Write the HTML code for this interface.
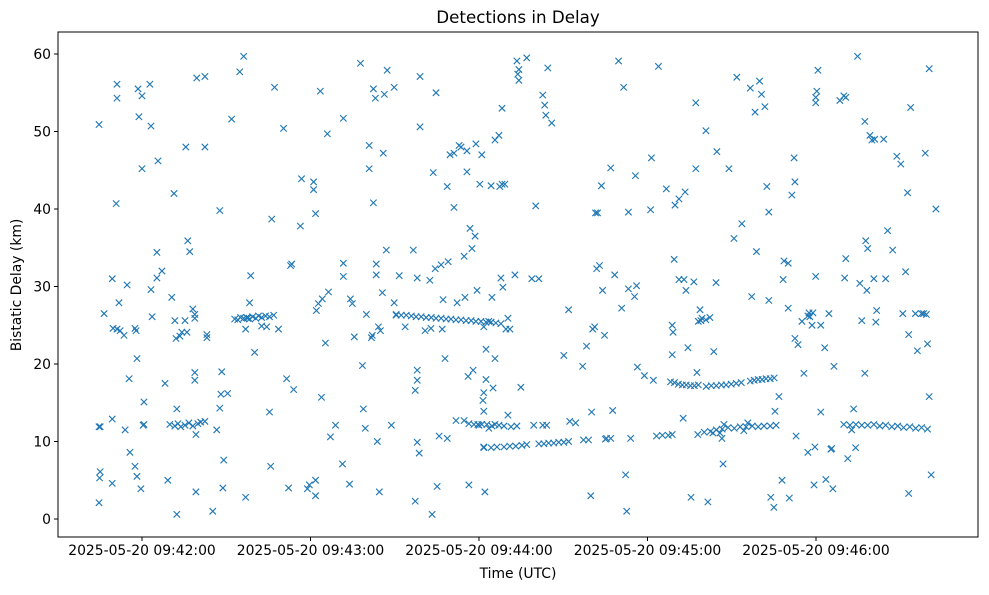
<!DOCTYPE html>
<html><head><meta charset="utf-8"><style>
body{margin:0;background:#fff;}
svg text{font-family:"DejaVu Sans","Liberation Sans",sans-serif;fill:#000;}
</style></head><body>
<svg id="chart" width="989" height="590" xmlns="http://www.w3.org/2000/svg">
<rect x="0" y="0" width="989" height="590" fill="#fff"/>
<text x="518" y="23" font-size="16.7" text-anchor="middle">Detections in Delay</text>
<text x="518" y="578" font-size="13.9" text-anchor="middle">Time (UTC)</text>
<text transform="translate(21,285) rotate(-90)" font-size="13.9" text-anchor="middle">Bistatic Delay (km)</text>
<g id="marks"></g>
<g id="axes"></g>
</svg>
<script>
const xTickSeconds=[0,60,120,180,240];
const xTickLabels=["2025-05-20 09:42:00","2025-05-20 09:43:00","2025-05-20 09:44:00","2025-05-20 09:45:00","2025-05-20 09:46:00"];
const yTicks=[0,10,20,30,40,50,60];
const groupA=[[-15.3,50.9],[-15.3,11.9],[-14.9,11.9],[-14.9,6.1],[-15.1,5.3],[-15.3,2.1],[-13.5,26.5],[-10.6,31],[-10.3,24.6],[-10.6,12.9],[-10.6,4.6],[-8.9,56.1],[-8.9,54.3],[-9.2,40.7],[-8.9,24.5],[-8.2,27.9],[-7.8,24.3],[-6.4,23.7],[-6,11.5],[-5.3,30.2],[-4.6,18.1],[-4.3,8.6],[-2.5,24.6],[-2.1,24.3],[-1.8,20.7],[-2.5,6.8],[-1.8,5.5],[-1.4,55.5],[-1.1,51.9],[0,45.2],[0,54.6],[0.4,12.1],[0.7,12.2],[-0.4,3.9],[0.7,15.1],[2.8,56.1],[3.2,50.7],[3.2,29.6],[3.6,26.1],[5.3,31.1],[5.3,34.4],[5.7,46.2],[7.1,32],[8.2,17.5],[9.2,5]];
const groupB=[[11.4,42],[10.6,28.6],[11.7,25.6],[12.1,23.3],[12.4,14.2],[12.4,0.6],[9.9,12.2],[11.7,12.0],[12.8,12.3],[13.8,11.9],[15.3,12.1],[16.7,12.4],[18.1,12.0],[19.9,12.3],[20.9,12.5],[22.4,12.6],[13.5,23.6],[14.2,24.1],[15.3,25.6],[16,24.1],[15.6,48],[16.3,35.9],[17,34.5],[18.1,27.1],[18.8,25.9],[18.8,26.4],[18.8,18.9],[18.8,17.9],[19.2,10.9],[19.2,3.5],[19.5,56.9],[22.4,57.1],[22.4,48],[23.1,23.4],[23.1,23.8],[25.2,1],[26.6,11.5],[27.7,39.8],[27.7,14.3],[28.1,16.1],[28.4,19],[28.8,4],[29.1,7.6],[30.5,16.2],[31.9,51.6]];
const groupC=[[33,25.8],[34.1,25.7],[35.1,26.0],[36.2,25.9],[37.3,26.0],[38.3,25.8],[39.4,26.1],[40.5,25.9],[41.5,26.2],[42.6,26.0],[44,26.2],[45.4,26.1],[46.9,26.3],[34.8,57.7],[36.2,59.7],[36.9,2.8],[36.9,24.5],[37.6,25.9],[38.3,27.9],[38.7,31.4],[40.1,21.5],[42.6,24.9],[44.4,24.8],[45.4,13.8],[45.8,6.8],[46.2,38.7],[47.2,55.7],[48.6,24.5],[50.4,50.4],[51.5,18.1],[52.2,4],[52.9,32.7],[53.3,32.9],[54,16.7]];
const groupD=[[56.8,43.9],[56.4,37.8],[58.9,3.9],[59.6,4.4],[61.1,42.5],[61.1,43.5],[61.8,39.4],[61.8,3],[61.8,5],[62.1,26.9],[62.8,27.8],[63.5,55.2],[63.9,15.7],[64.2,28.4],[65.3,22.7],[66,49.7],[66.4,29.3],[67.1,10.6],[68.9,12.1],[71.4,7.1],[71.7,33],[71.7,51.7],[71.7,31.3],[73.9,4.5],[74.2,28.4],[74.9,27.8]];
const groupE=[[75.6,23.5],[77.8,58.8],[78.5,19.8],[78.8,14.2],[79.5,11.7],[79.9,26.4],[80.9,45.2],[80.9,48.2],[81.7,23.4],[82,23.7],[82.4,40.8],[82.4,55.5],[83.1,54.3],[83.4,32.9],[83.4,31.5],[83.8,10],[84.2,24.8],[84.5,3.5],[84.9,24.3],[85.6,29.2],[85.9,47.2],[86.3,54.8],[87,34.7],[87.3,57.9],[88.8,12.1],[89.8,55.7],[90.5,26.3],[89.8,27.9]];
const groupF=[[90.5,26.4],[92.3,26.3],[94.1,26.3],[95.9,26.2],[97.6,26.1],[99.4,26.1],[101.2,26.0],[103,26.0],[104.7,25.9],[106.5,25.9],[108.3,25.8],[110,25.8],[111.8,25.7],[113.6,25.7],[115.4,25.6],[117.2,25.6],[118.9,25.5],[120.7,25.5],[122.5,25.4],[124.3,25.4],[126,25.3],[127.8,25.2]];
const groupG=[[91.6,31.4],[93.7,24.8],[96.6,34.7],[97.3,16.6],[97.3,2.3],[98,31.1],[98,9.9],[99,57.1],[99,50.6],[98,19.2],[98,17.9],[98.7,8.5],[100.8,24.3],[102.5,30.8],[102.9,24.6],[103.3,0.6],[103.7,44.7],[104.4,32.3],[104.7,55],[105.1,4.2],[105.8,10.7],[106.5,32.8],[106.9,24.5],[107.2,28.3],[107.9,20.7],[108.7,42.9],[108.7,10.4],[109,33.2],[109.7,47],[111.1,47.2],[111.1,40.2],[111.8,12.7],[112.2,27.9],[112.9,48.2],[113.6,48],[114.7,33.9],[115,28.6],[114.7,12.7],[115.7,47.5],[115.7,44.8],[116.1,18.4],[116.4,4.4],[116.8,37.5]];
const groupH=[[117.5,34.9],[117.9,19.2],[118.6,36.5],[118.9,48.4],[119.3,29.5],[119.6,12.2],[120.3,43.2],[121,47],[121,12.2],[121.4,15.3],[121.7,16.3],[121.7,13.9],[121.7,9.3],[121.7,24.8],[122.1,3.5],[122.5,18],[122.5,21.9],[123.5,25.5],[123.5,11.7],[124.3,43],[124.6,28.6],[125,16.9],[125.7,20.7],[125.7,12.2],[125.7,48.9],[127.1,49.5],[127.4,42.9],[127.8,31.1],[128.2,53],[128.2,43.2],[129.2,43.2],[128.5,29.9],[129.6,24.5],[130.3,25.9],[130.3,13.4],[131,24.5],[132.8,31.5],[133.5,59.1],[134.2,58],[134.2,56.6],[133.8,57.4],[134.9,17],[137,59.5],[116.4,12.3],[118.2,12.2],[120,12.1],[122.8,12.2],[124.6,12.0],[127.1,12.1],[128.9,12.0],[131.4,11.9],[133.5,12.0],[121.7,9.2],[124.3,9.2],[126.4,9.3],[128.9,9.3],[131,9.4],[133.1,9.4],[135.3,9.5],[137,9.6]];
const groupI=[[138.8,31],[140.2,40.4],[141.3,31],[142.7,54.7],[143.4,53.4],[143.8,52.1],[145.9,51.1],[144.5,58.2],[139.5,12.1],[142.7,12.1],[144.1,12.1],[141.3,9.7],[143.1,9.7],[144.8,9.8],[146.6,9.8],[148.4,9.9],[150.2,9.9],[151.9,10.0],[150.2,21.1],[151.9,27],[152.3,12.6],[154.4,12.4],[156.9,19.7],[157.2,10.2],[158.3,22.3],[159,10.2],[159.8,3],[160.1,13.8],[160.5,24.5],[161.2,24.8],[161.5,39.5],[162.2,39.5],[161.9,32.3],[162.9,32.7],[163.6,43],[164,29.5],[164.7,23.7],[165.4,10.4],[165,10.3],[166.9,45.3],[166.9,10.4],[167.6,14],[168.3,31.5],[169.7,59.1],[170.8,27.2],[171.5,55.7],[172.2,5.7],[172.6,1],[173.2,39.6],[173.2,29.7],[174,10.4],[175.4,28.7],[175.7,44.3],[176.1,30.1],[176.4,19.6],[178.9,18.5],[181.1,39.9],[181.4,46.6],[182.1,17.9],[183.2,10.7],[183.9,58.4],[185.3,10.8],[186.7,42.6],[187.4,10.8],[188.8,10.9],[188.8,21.2],[188.8,25],[189.1,24.1],[189.5,33.5],[189.8,40.5],[191.2,41.3],[191.2,30.9],[193,30.9],[192.7,13],[193.4,42.2],[193.7,29.5],[194.4,22.1],[195.5,2.8],[196.5,30.6],[197.2,45.2],[197.2,53.7],[197.6,18.9],[197.9,10.9],[198.7,27],[199,25.6],[188.2,17.7],[189.6,17.6],[191,17.4],[192.4,17.3],[193.8,17.3],[195.3,17.2],[196.7,17.2],[198.1,17.3],[198.1,25.5],[199.4,25.9],[200.8,25.7],[202.2,26]];
const groupJ=[[200.8,50.1],[201.5,2.2],[203.3,11.1],[203.6,21.6],[204.4,30.5],[204.7,47.4],[205.8,11.1],[206.5,10.4],[206.9,7.1],[207.2,12.2],[209,45.2],[210.8,36.2],[211.8,57],[213.6,38.1],[214.3,11.4],[215.7,12.4],[216.6,55.6],[217.1,28.7],[218.3,52.5],[218.8,34.5],[219.9,56.5],[220.6,54.8],[221.8,53.2],[222.5,42.9],[223.2,28.2],[223.2,39.6],[223.9,2.8],[225,1.5],[225.4,13.9],[226.8,15.8],[227.9,5],[200.9,17.1],[202.7,17.2],[204.5,17.2],[206.3,17.3],[208,17.3],[209.8,17.4],[211.6,17.5],[213.4,17.6],[216.6,17.8],[218,17.9],[219.4,18.0],[220.8,18.0],[222.2,18.1],[223.7,18.1],[225.1,18.2],[200.2,11.2],[202.4,11.3],[204.5,11.5],[206.6,11.6],[208.7,11.8],[210.9,11.7],[213,11.9],[215.1,11.9],[217.3,12.0],[219.4,11.9],[221.5,12.0],[223.7,12.0],[225.8,12.1]];
const groupK=[[230.5,2.7],[228.3,30.9],[228.6,33.3],[230.1,33],[230.1,27.2],[231.4,41.8],[232.2,46.6],[232.5,43.5],[232.9,10.7],[232.5,23.3],[233.6,22.5],[235,25.5],[235.7,18.8],[237.1,8.6],[237.1,26.2],[237.5,26.6],[237.8,26.1],[238.6,25],[238.9,26.6],[239.6,9.3],[239.9,54.4],[239.9,53.7],[240.3,55.2],[239.3,4.4],[239.9,31.3],[240.7,57.9],[241.7,25],[241.7,13.8],[243.1,22.1],[243.5,5.1],[244.6,26.5],[245.3,9],[246,3.9],[245.6,9.1],[246.4,19.7],[248.5,54],[249.9,54.6],[250.6,54.4],[250.6,33.6],[250.2,31.1],[252.7,11.5],[253.4,14.2],[254.1,9.2],[251.3,7.8],[254.8,59.7],[255.6,30.4],[256.3,25.6]];
const groupL=[[257.4,18.8],[257.4,51.3],[257.7,35.9],[258.1,29.5],[258.4,34.9],[259.2,49.5],[259.9,48.9],[260.6,31],[260.9,49],[261.3,25.4],[261.6,26.9],[264.1,49],[264.8,31],[265.5,37.2],[267.3,34.7],[268.8,46.8],[270.2,45.8],[270.9,26.5],[271.9,31.9],[272.6,42.1],[273,23.8],[273,3.3],[273.7,53.1],[275.4,26.5],[276.1,21.7],[277.6,26.5],[278.3,26.5],[279.3,26.4],[278.9,47.2],[279.7,22.6],[280.3,15.8],[280.3,58.1],[281,5.7],[282.7,40],[249.9,12.2],[252.1,12.1],[254.2,12.2],[256.3,12.1],[258.4,12.1],[260.6,12.2],[262.7,12.0],[264.8,12.1],[267,11.9],[269.1,12.0],[271.2,11.8],[273.4,11.9],[275.5,11.7],[277.6,11.8],[279.7,11.6]];

const L=58,R=978,T=32,B=537;
const X0=142,PXS=168.5/60;
const Y0=519,PXK=465/60;
function xScale(t){return X0+t*PXS;}
function yScale(d){return Y0-d*PXK;}
const NS="http://www.w3.org/2000/svg";
const marks=document.getElementById('marks');
const axes=document.getElementById('axes');
const groups=[groupA,groupB,groupC,groupD,groupE,groupF,groupG,groupH,groupI,groupJ,groupK,groupL];
groups.forEach(g=>g.forEach(p=>{
  const cx=xScale(p[0]),cy=yScale(p[1]),s=3.2;
  const path=document.createElementNS(NS,'path');
  path.setAttribute('d',`M${cx-s},${cy-s}L${cx+s},${cy+s}M${cx-s},${cy+s}L${cx+s},${cy-s}`);
  path.setAttribute('stroke','#1f77b4');
  path.setAttribute('stroke-width','1.1');
  path.setAttribute('fill','none');
  
  
  marks.appendChild(path);
}));
const frame=document.createElementNS(NS,'rect');
frame.setAttribute('x',L);frame.setAttribute('y',T);frame.setAttribute('width',R-L);frame.setAttribute('height',B-T);
frame.setAttribute('fill','none');frame.setAttribute('stroke','#000');frame.setAttribute('stroke-width','1');


axes.appendChild(frame);
yTicks.forEach(v=>{
  const y=yScale(v);
  const ln=document.createElementNS(NS,'line');
  ln.setAttribute('x1',L-4);ln.setAttribute('x2',L);ln.setAttribute('y1',y);ln.setAttribute('y2',y);ln.setAttribute('stroke','#000');
  
  
  axes.appendChild(ln);
  const tx=document.createElementNS(NS,'text');
  tx.setAttribute('x',L-7);tx.setAttribute('y',y+5);tx.setAttribute('font-size','13.9');tx.setAttribute('text-anchor','end');
  tx.textContent=v;
  
  
  axes.appendChild(tx);
});
xTickSeconds.forEach((s,i)=>{
  const x=xScale(s);
  const ln=document.createElementNS(NS,'line');
  ln.setAttribute('x1',x);ln.setAttribute('x2',x);ln.setAttribute('y1',B);ln.setAttribute('y2',B+4);ln.setAttribute('stroke','#000');
  
  
  axes.appendChild(ln);
  const tx=document.createElementNS(NS,'text');
  tx.setAttribute('x',x);tx.setAttribute('y',B+18);tx.setAttribute('font-size','13.9');tx.setAttribute('text-anchor','middle');
  tx.textContent=xTickLabels[i];
  
  
  axes.appendChild(tx);
});
</script>
</body></html>
